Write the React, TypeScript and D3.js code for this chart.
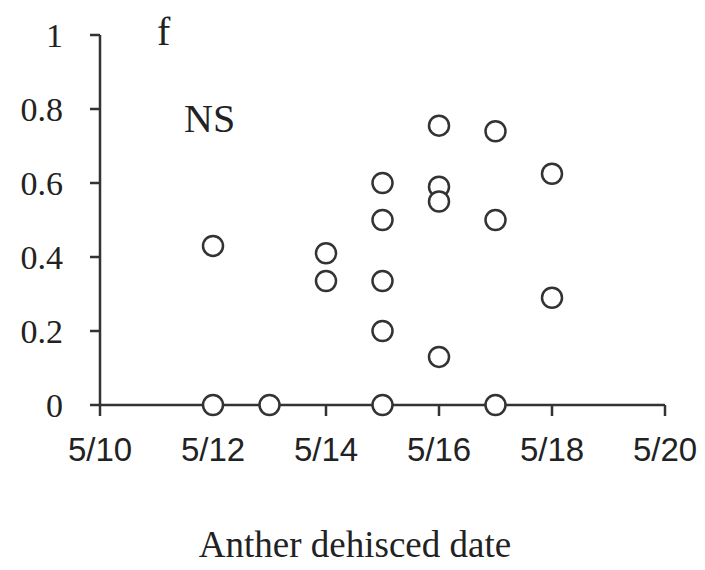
import React from 'react';
import * as d3 from 'd3';

// anther dehisced date (day of May) and proportion value
const days = [12, 12, 13, 14, 14, 15, 15, 15, 15, 15, 16, 16, 16, 16, 17, 17, 17, 18, 18];
const values = [0.43, 0, 0, 0.41, 0.335, 0.6, 0.5, 0.335, 0.2, 0, 0.755, 0.59, 0.55, 0.13, 0.74, 0.5, 0, 0.625, 0.29];

const xTicks = [10, 12, 14, 16, 18, 20];
const yTicks = [0, 0.2, 0.4, 0.6, 0.8, 1];

const width = 705;
const height = 570;
const serif = '"Liberation Serif", "DejaVu Serif", serif';
const sans = '"Liberation Sans", Arial, sans-serif';
const ink = '#333';

export default function App() {
  const x = d3.scaleLinear().domain([10, 20]).range([100, 665]);
  const y = d3.scaleLinear().domain([0, 1]).range([405, 35]);

  const points = days.map((d, i) => ({ cx: x(d), cy: y(values[i]) }));

  return (
    <svg width={width} height={height} style={{ position: 'absolute', left: 0, top: 0, background: '#fff' }}>
      {/* y axis */}
      <line x1={x(10)} x2={x(10)} y1={y(0)} y2={y(1)} stroke={ink} strokeWidth={2.5} />
      {yTicks.map((t) => (
        <g key={'y' + t}>
          <line x1={x(10) - 10} x2={x(10)} y1={y(t)} y2={y(t)} stroke={ink} strokeWidth={2.5} />
          <text x={63} y={y(t)} dy="0.34em" textAnchor="end" fontFamily={serif} fontSize={34} fill="#222">
            {t === 0 || t === 1 ? String(t) : t.toFixed(1)}
          </text>
        </g>
      ))}

      {/* x axis */}
      <line x1={x(10)} x2={x(20)} y1={y(0)} y2={y(0)} stroke={ink} strokeWidth={2.5} />
      {xTicks.map((t) => (
        <g key={'x' + t}>
          <line x1={x(t)} x2={x(t)} y1={y(0)} y2={y(0) + 11} stroke={ink} strokeWidth={2.5} />
          <text x={x(t)} y={461} textAnchor="middle" fontFamily={sans} fontSize={33} fill="#222">
            {'5/' + t}
          </text>
        </g>
      ))}

      {/* points */}
      {points.map((p, i) => (
        <circle key={i} cx={p.cx} cy={p.cy} r={10} fill="#fff" stroke={ink} strokeWidth={2.5} />
      ))}

      <text x={157} y={45} fontFamily={serif} fontSize={40} fill="#222">f</text>
      <text x={184} y={132} fontFamily={serif} fontSize={40} fill="#222">NS</text>

      <text x={355} y={557} textAnchor="middle" fontFamily={serif} fontSize={37} fill="#222">
        Anther dehisced date
      </text>
    </svg>
  );
}
